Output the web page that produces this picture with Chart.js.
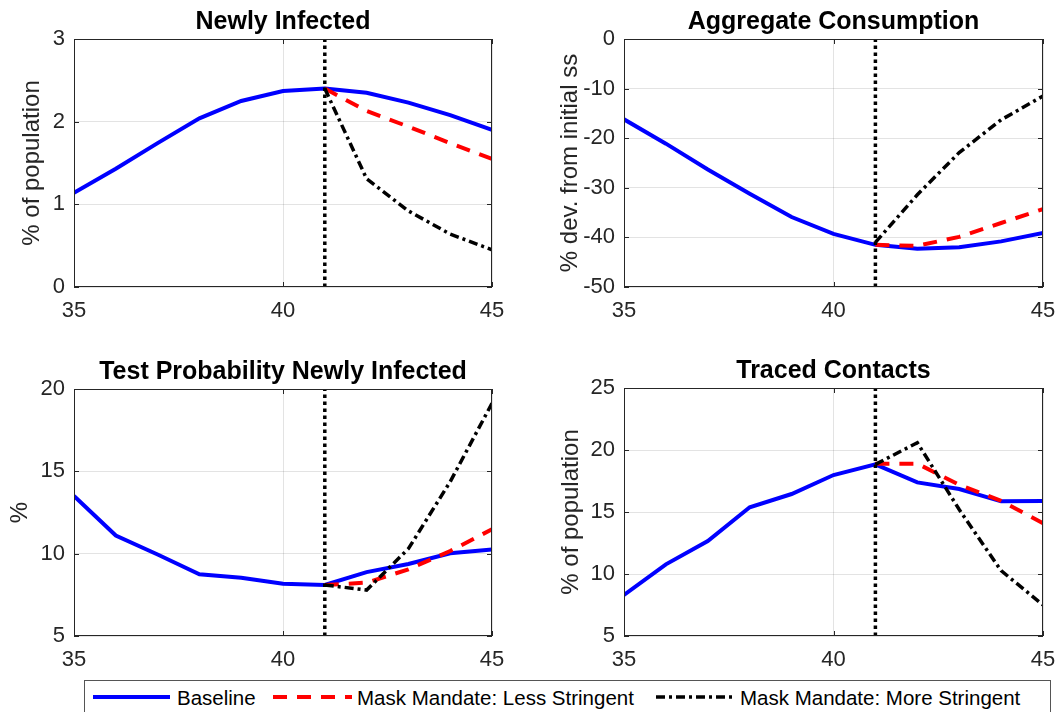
<!DOCTYPE html>
<html><head><meta charset="utf-8">
<script src="https://cdn.jsdelivr.net/npm/chart.js@4.4.0/dist/chart.umd.min.js"></script>
<style>
html,body{margin:0;padding:0;background:#fff;width:1057px;height:712px;overflow:hidden;position:relative;}
canvas{position:absolute;}
svg{position:absolute;}
</style></head><body>
<canvas id="c1" width="528" height="340" style="left:0;top:0"></canvas>
<canvas id="c2" width="529" height="340" style="left:528px;top:0"></canvas>
<canvas id="c3" width="528" height="340" style="left:0;top:340px"></canvas>
<canvas id="c4" width="529" height="340" style="left:528px;top:340px"></canvas>
<svg id="leg" width="1057" height="42" style="left:0;top:670px">
  <rect x="84.5" y="10.5" width="966" height="40" fill="#fff" stroke="#555" stroke-width="1"/>
  <line x1="93" y1="27" x2="170" y2="27" stroke="#0000ff" stroke-width="4"/>
  <text x="177" y="35" font-family="Liberation Sans, Arial, sans-serif" font-size="20.5" fill="#000">Baseline</text>
  <line x1="273" y1="27" x2="352" y2="27" stroke="#ff0000" stroke-width="4" stroke-dasharray="14 10"/>
  <text x="357" y="35" font-family="Liberation Sans, Arial, sans-serif" font-size="20.5" fill="#000">Mask Mandate: Less Stringent</text>
  <line x1="656" y1="27" x2="735" y2="27" stroke="#000" stroke-width="3.5" stroke-dasharray="9 4 3 4"/>
  <text x="740" y="35" font-family="Liberation Sans, Arial, sans-serif" font-size="20.5" fill="#000">Mask Mandate: More Stringent</text>
</svg>
<script>
// ---- data ----
const periods = [35, 36, 37, 38, 39, 40, 41, 42, 43, 44, 45];
const policyPeriods = [41, 42, 43, 44, 45];
const policyStart = 41;
const xTicks = [35, 40, 45];

const infectedBaseline = [1.14, 1.43, 1.74, 2.04, 2.25, 2.37, 2.40, 2.35, 2.23, 2.08, 1.90];
const infectedLess     = [2.40, 2.13, 1.94, 1.74, 1.55];
const infectedMore     = [2.40, 1.31, 0.92, 0.64, 0.45];

const consBaseline = [-16.2, -21.1, -26.3, -31.2, -35.9, -39.3, -41.5, -42.3, -42.0, -40.8, -39.1];
const consLess     = [-41.5, -41.7, -39.9, -37.1, -34.3];
const consMore     = [-41.0, -31.4, -22.9, -16.3, -11.5];

const testBaseline = [13.5, 11.1, 9.95, 8.75, 8.54, 8.17, 8.10, 8.88, 9.37, 10.02, 10.26];
const testLess     = [8.10, 8.24, 9.05, 10.16, 11.48];
const testMore     = [8.10, 7.79, 10.3, 14.37, 19.13];

const tracedBaseline = [8.31, 10.78, 12.66, 15.38, 16.45, 17.98, 18.84, 17.39, 16.85, 15.86, 15.88];
const tracedLess     = [18.9, 18.9, 17.2, 15.9, 14.1];
const tracedMore     = [18.84, 20.59, 15.2, 10.27, 7.5];

const titles = ['Newly Infected', 'Aggregate Consumption', 'Test Probability Newly Infected', 'Traced Contacts'];
const yLabels = ['% of population', '% dev. from initial ss', '%', '% of population'];
const yRanges = [[0, 3, 1], [-50, 0, 10], [5, 20, 5], [5, 25, 5]];
const seriesNames = ['Baseline', 'Mask Mandate: Less Stringent', 'Mask Mandate: More Stringent'];

// ---- rendering ----
const FONT = 'Liberation Sans, Arial, Helvetica, sans-serif';
Chart.defaults.font.family = FONT;
const AXC = '#262626';
const GRID = 'rgba(38,38,38,0.13)';

function pts(xs, ys) { return xs.map((x, i) => ({ x: x, y: ys[i] })); }

function makeChart(id, idx, base, less, more, area, W, H, ylabX) {
  const [ymin, ymax, ystep] = yRanges[idx];
  const deco = {
    id: 'deco' + idx,
    afterDraw(chart) {
      const ctx = chart.ctx, a = chart.chartArea;
      const xs = chart.scales.x, ys = chart.scales.y;
      ctx.save();
      ctx.strokeStyle = AXC; ctx.lineWidth = 1;
      ctx.strokeRect(Math.round(a.left) + 0.5, Math.round(a.top) + 0.5, Math.round(a.right - a.left) - 1, Math.round(a.bottom - a.top) - 1);
      const TL = 5;
      ctx.beginPath();
      xs.ticks.forEach(t => {
        const px = Math.round(xs.getPixelForValue(t.value)) + 0.5;
        ctx.moveTo(px, a.bottom); ctx.lineTo(px, a.bottom - TL);
        ctx.moveTo(px, a.top); ctx.lineTo(px, a.top + TL);
      });
      ys.ticks.forEach(t => {
        const py = Math.round(ys.getPixelForValue(t.value)) + 0.5;
        ctx.moveTo(a.left, py); ctx.lineTo(a.left + TL, py);
        ctx.moveTo(a.right, py); ctx.lineTo(a.right - TL, py);
      });
      ctx.stroke();
      // title
      ctx.fillStyle = '#000';
      ctx.font = 'bold 25px ' + FONT;
      ctx.textAlign = 'center'; ctx.textBaseline = 'alphabetic';
      ctx.fillText(titles[idx], (a.left + a.right) / 2, a.top - 10);
      // y label
      ctx.font = '24px ' + FONT;
      ctx.fillStyle = AXC;
      ctx.translate(ylabX, (a.top + a.bottom) / 2);
      ctx.rotate(-Math.PI / 2);
      ctx.textBaseline = 'middle';
      ctx.fillText(yLabels[idx], 0, 0);
      ctx.restore();
    }
  };
  return new Chart(document.getElementById(id), {
    type: 'line',
    data: {
      datasets: [
        { label: 'policy', data: [{ x: policyStart, y: ymin }, { x: policyStart, y: ymax }],
          borderColor: '#000', borderWidth: 3.5, borderDash: [3.5, 3.5], order: 0 },
        { label: seriesNames[2], data: pts(policyPeriods, more), borderColor: '#000', borderWidth: 3.5, borderDash: [9, 4, 3, 4], order: 1 },
        { label: seriesNames[1], data: pts(policyPeriods, less), borderColor: '#ff0000', borderWidth: 4, borderDash: [14, 10], order: 2 },
        { label: seriesNames[0], data: pts(periods, base), borderColor: '#0000ff', borderWidth: 4, order: 3 }
      ]
    },
    options: {
      responsive: false, animation: false,
      layout: { padding: { left: 0, top: area.top, right: W - area.right, bottom: 0 } },
      elements: { point: { radius: 0 }, line: { tension: 0, fill: false, borderCapStyle: 'butt' } },
      plugins: { legend: { display: false }, tooltip: { enabled: false } },
      scales: {
        x: { type: 'linear', min: 35, max: 45,
             afterBuildTicks: s => { s.ticks = xTicks.map(v => ({ value: v })); },
             ticks: { color: AXC, font: { size: 22 }, padding: 0, maxRotation: 0 },
             grid: { color: GRID, drawTicks: true, tickLength: 11, tickColor: 'rgba(0,0,0,0)' }, border: { display: false },
             afterFit: s => { s.height = H - area.bottom; } },
        y: { type: 'linear', min: ymin, max: ymax,
             ticks: { stepSize: ystep, color: AXC, font: { size: 22 }, padding: 9 },
             grid: { color: GRID, drawTicks: false }, border: { display: false },
             afterFit: s => { s.width = area.left; } }
      }
    },
    plugins: [deco]
  });
}

makeChart('c1', 0, infectedBaseline, infectedLess, infectedMore, { left: 74, right: 492, top: 39, bottom: 287 }, 528, 340, 32.5);
makeChart('c2', 1, consBaseline, consLess, consMore, { left: 96, right: 515, top: 39, bottom: 287 }, 529, 340, 42);
makeChart('c3', 2, testBaseline, testLess, testMore, { left: 74, right: 492, top: 49, bottom: 296 }, 528, 340, 20);
makeChart('c4', 3, tracedBaseline, tracedLess, tracedMore, { left: 96, right: 515, top: 48, bottom: 296 }, 529, 340, 43);
</script>
</body></html>
